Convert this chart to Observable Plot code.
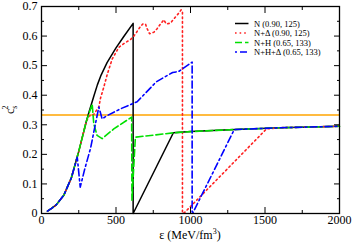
<!DOCTYPE html>
<html><head><meta charset="utf-8">
<script src="https://cdn.jsdelivr.net/npm/d3@7"></script>
<script src="https://cdn.jsdelivr.net/npm/@observablehq/plot@0.6"></script>
<style>body{margin:0;background:#fff}#chart svg{display:block}</style>
</head><body><div id="chart"></div>
<script>
// N (0.90, 125)
const nE = [40, 70, 100, 150, 200, 250, 300, 320, 350, 375, 400, 440, 500, 550, 615, 615, 885, 1000, 1300, 1600, 2000];
const nC = [0.008, 0.018, 0.03, 0.062, 0.12, 0.21, 0.31, 0.345, 0.395, 0.435, 0.468, 0.51, 0.56, 0.597, 0.643, 0.0, 0.273, 0.277, 0.284, 0.29, 0.295];
// N+Δ (0.90, 125)
const dE = [40, 70, 100, 150, 200, 250, 300, 320, 350, 385, 396, 418, 441, 474, 519, 560, 597, 620, 638, 658, 680, 698, 709, 725, 754, 776, 799, 821, 837, 866, 895, 917, 938, 946, 946, 960, 1510, 1600, 2000];
const dC = [0.008, 0.018, 0.03, 0.062, 0.12, 0.21, 0.31, 0.33, 0.335, 0.36, 0.39, 0.427, 0.47, 0.522, 0.562, 0.577, 0.588, 0.60, 0.613, 0.628, 0.641, 0.641, 0.625, 0.608, 0.613, 0.625, 0.641, 0.655, 0.641, 0.644, 0.662, 0.675, 0.689, 0.68, 0.0, 0.003, 0.286, 0.29, 0.295];
// N+H (0.65, 133)
const hE = [40, 70, 100, 150, 200, 250, 300, 340, 351, 373, 407, 485, 605, 607, 630, 888, 1000, 1300, 1600, 2000];
const hC = [0.008, 0.018, 0.03, 0.062, 0.12, 0.21, 0.31, 0.37, 0.303, 0.264, 0.253, 0.286, 0.326, 0.045, 0.258, 0.273, 0.277, 0.284, 0.29, 0.295];
// N+H+Δ (0.65, 133)
const bE = [40, 70, 100, 150, 200, 240, 260, 290, 329, 362, 385, 407, 441, 530, 642, 770, 880, 920, 1011, 1011, 1018, 1291, 1300, 1600, 2000];
const bC = [0.008, 0.018, 0.03, 0.062, 0.12, 0.19, 0.089, 0.15, 0.22, 0.303, 0.36, 0.32, 0.331, 0.354, 0.378, 0.445, 0.477, 0.48, 0.512, 0.005, 0.004, 0.281, 0.284, 0.29, 0.295];

const conformal = [1/3];
const legendNames = ["N (0.90, 125)", "N+\u0394 (0.90, 125)", "N+H (0.65, 133)", "N+H+\u0394 (0.65, 133)"];
const xMajor = [0, 500, 1000, 1500, 2000];
const xMinor = [250, 750, 1250, 1750];
const yMajor = [0, 0.1, 0.2, 0.3, 0.4, 0.5, 0.6, 0.7];
const yMinor = [0.05, 0.15, 0.25, 0.35, 0.45, 0.55, 0.65];

const styles = [
  {stroke: "#000000", dash: "none", width: 1.5, offset: 0},
  {stroke: "#ff2020", dash: "1.6,3", width: 1.6, offset: 0},
  {stroke: "#00e000", dash: "7,3", width: 1.6, offset: 0},
  {stroke: "#0000ff", dash: "7,3,2,3", width: 1.6, offset: 10}
];
const seriesE = [nE, dE, hE, bE];
const seriesC = [nC, dC, hC, bC];
const tables = seriesE.map((E, k) => E.map((e, i) => ({e, c: seriesC[k][i]})));

const font = "'Liberation Serif', 'DejaVu Serif', serif";
const tickMarks = [];
for (const a of ["bottom", "top"]) {
  tickMarks.push(Plot.axisX(xMajor, {anchor: a, tickSize: -6, tickFormat: () => "", label: null}));
  tickMarks.push(Plot.axisX(xMinor, {anchor: a, tickSize: -3, tickFormat: () => "", label: null}));
}
for (const a of ["left", "right"]) {
  tickMarks.push(Plot.axisY(yMajor, {anchor: a, tickSize: -6, tickFormat: () => "", label: null}));
  tickMarks.push(Plot.axisY(yMinor, {anchor: a, tickSize: -3, tickFormat: () => "", label: null}));
}

const plot = Plot.plot({
  width: 352, height: 245,
  marginLeft: 41, marginRight: 13, marginTop: 6, marginBottom: 32,
  style: {fontFamily: font, fontSize: "12px", background: "#fff", color: "#000"},
  x: {domain: [0, 2000]},
  y: {domain: [0, 0.7]},
  marks: [
    Plot.ruleY(conformal, {stroke: "#ffa500", strokeWidth: 1.6}),
    ...tables.map((t, k) => Plot.line(t, {x: "e", y: "c", stroke: styles[k].stroke, strokeWidth: styles[k].width, strokeDasharray: styles[k].dash === "none" ? undefined : styles[k].dash})),
    ...tickMarks,
    Plot.axisX(xMajor, {anchor: "bottom", tickSize: 0, tickPadding: 2, tickFormat: d => String(d), label: null, fontSize: 12}),
    Plot.axisY(yMajor, {anchor: "left", tickSize: 0, tickPadding: 4, tickFormat: d => d === 0 ? "0" : d.toFixed(1), label: null, fontSize: 12}),
    Plot.frame({stroke: "#000", strokeWidth: 1.3})
  ]
});
document.getElementById("chart").append(plot);

const svg = d3.select(plot);
// x label
const xl = svg.append("text").attr("x", 190).attr("y", 239)
  .attr("style", `text-anchor:middle;font-family:${font};font-size:12px;fill:#000`);
xl.append("tspan").text("\u03b5 (MeV/fm");
xl.append("tspan").attr("style", "font-size:8px").attr("dy", -5).text("3");
xl.append("tspan").attr("dy", 5).text(")");
// y label
const yl = svg.append("text").attr("transform", "translate(14,114) rotate(-90)")
  .attr("style", `text-anchor:start;font-family:${font};font-size:12px;fill:#000`);
yl.append("tspan").text("c");
yl.append("tspan").attr("style", "font-size:8px").attr("dy", 3).text("s");
yl.append("tspan").attr("style", "font-size:8px").attr("dx", -4).attr("dy", -9).text("2");
// legend
const lg = svg.append("g");
legendNames.forEach((name, k) => {
  const y = 23.5 + k * 9.5;
  lg.append("line").attr("x1", 235).attr("x2", 248.5).attr("y1", y).attr("y2", y)
    .attr("style", `stroke:${styles[k].stroke};stroke-width:${styles[k].width};stroke-dasharray:${styles[k].dash};stroke-dashoffset:${styles[k].offset}`);
  lg.append("text").attr("x", 254).attr("y", y + 3)
    .attr("style", `text-anchor:start;font-family:${font};font-size:8.5px;fill:#000`)
    .text(name);
});
</script>
</body></html>
